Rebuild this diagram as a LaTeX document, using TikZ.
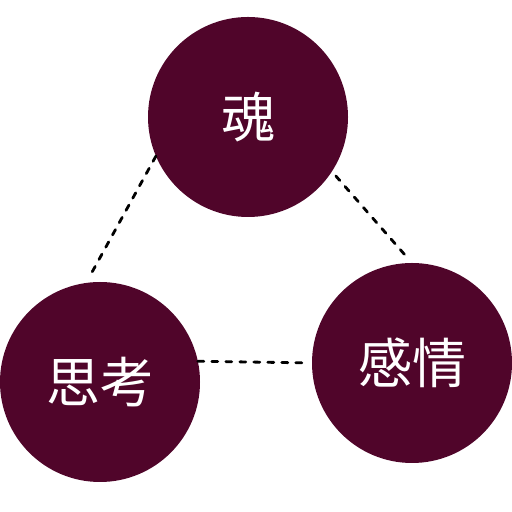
\documentclass[tikz,border=0pt]{standalone}
\usepackage{fontspec}
\newfontfamily\cjk{Noto Sans CJK JP}
\usetikzlibrary{positioning}
\definecolor{cmaroon}{HTML}{50052A}
\tikzset{
  every picture/.style={font=\cjk},
  bubble/.style={circle, fill=cmaroon, text=white, minimum size=100pt, inner sep=0pt, outer sep=0pt, font=\cjk\fontsize{27}{30}\selectfont},
  link/.style={draw=black, line width=1.4pt, line cap=round, dash pattern=on 3pt off 4pt},
}
\begin{document}
\begin{tikzpicture}[x=0.5pt, y=0.5pt]
  \useasboundingbox (0,0) rectangle (512,512);
  \node[bubble] (soul) at (248,395) {魂};
  \node[bubble] (think) at (100,130) {思考};
  \node[bubble] (feel) at (412,149) {感情};
  % dashed ties between the circles
  \draw[link, shorten >=3.5pt] (soul.203) -- (think.98);
  \draw[link, shorten <=3pt, shorten >=2.5pt] (soul.327) -- (feel.90);
  \draw[link, shorten >=2pt] (think.12) -- (feel.180);
\end{tikzpicture}
\end{document}
